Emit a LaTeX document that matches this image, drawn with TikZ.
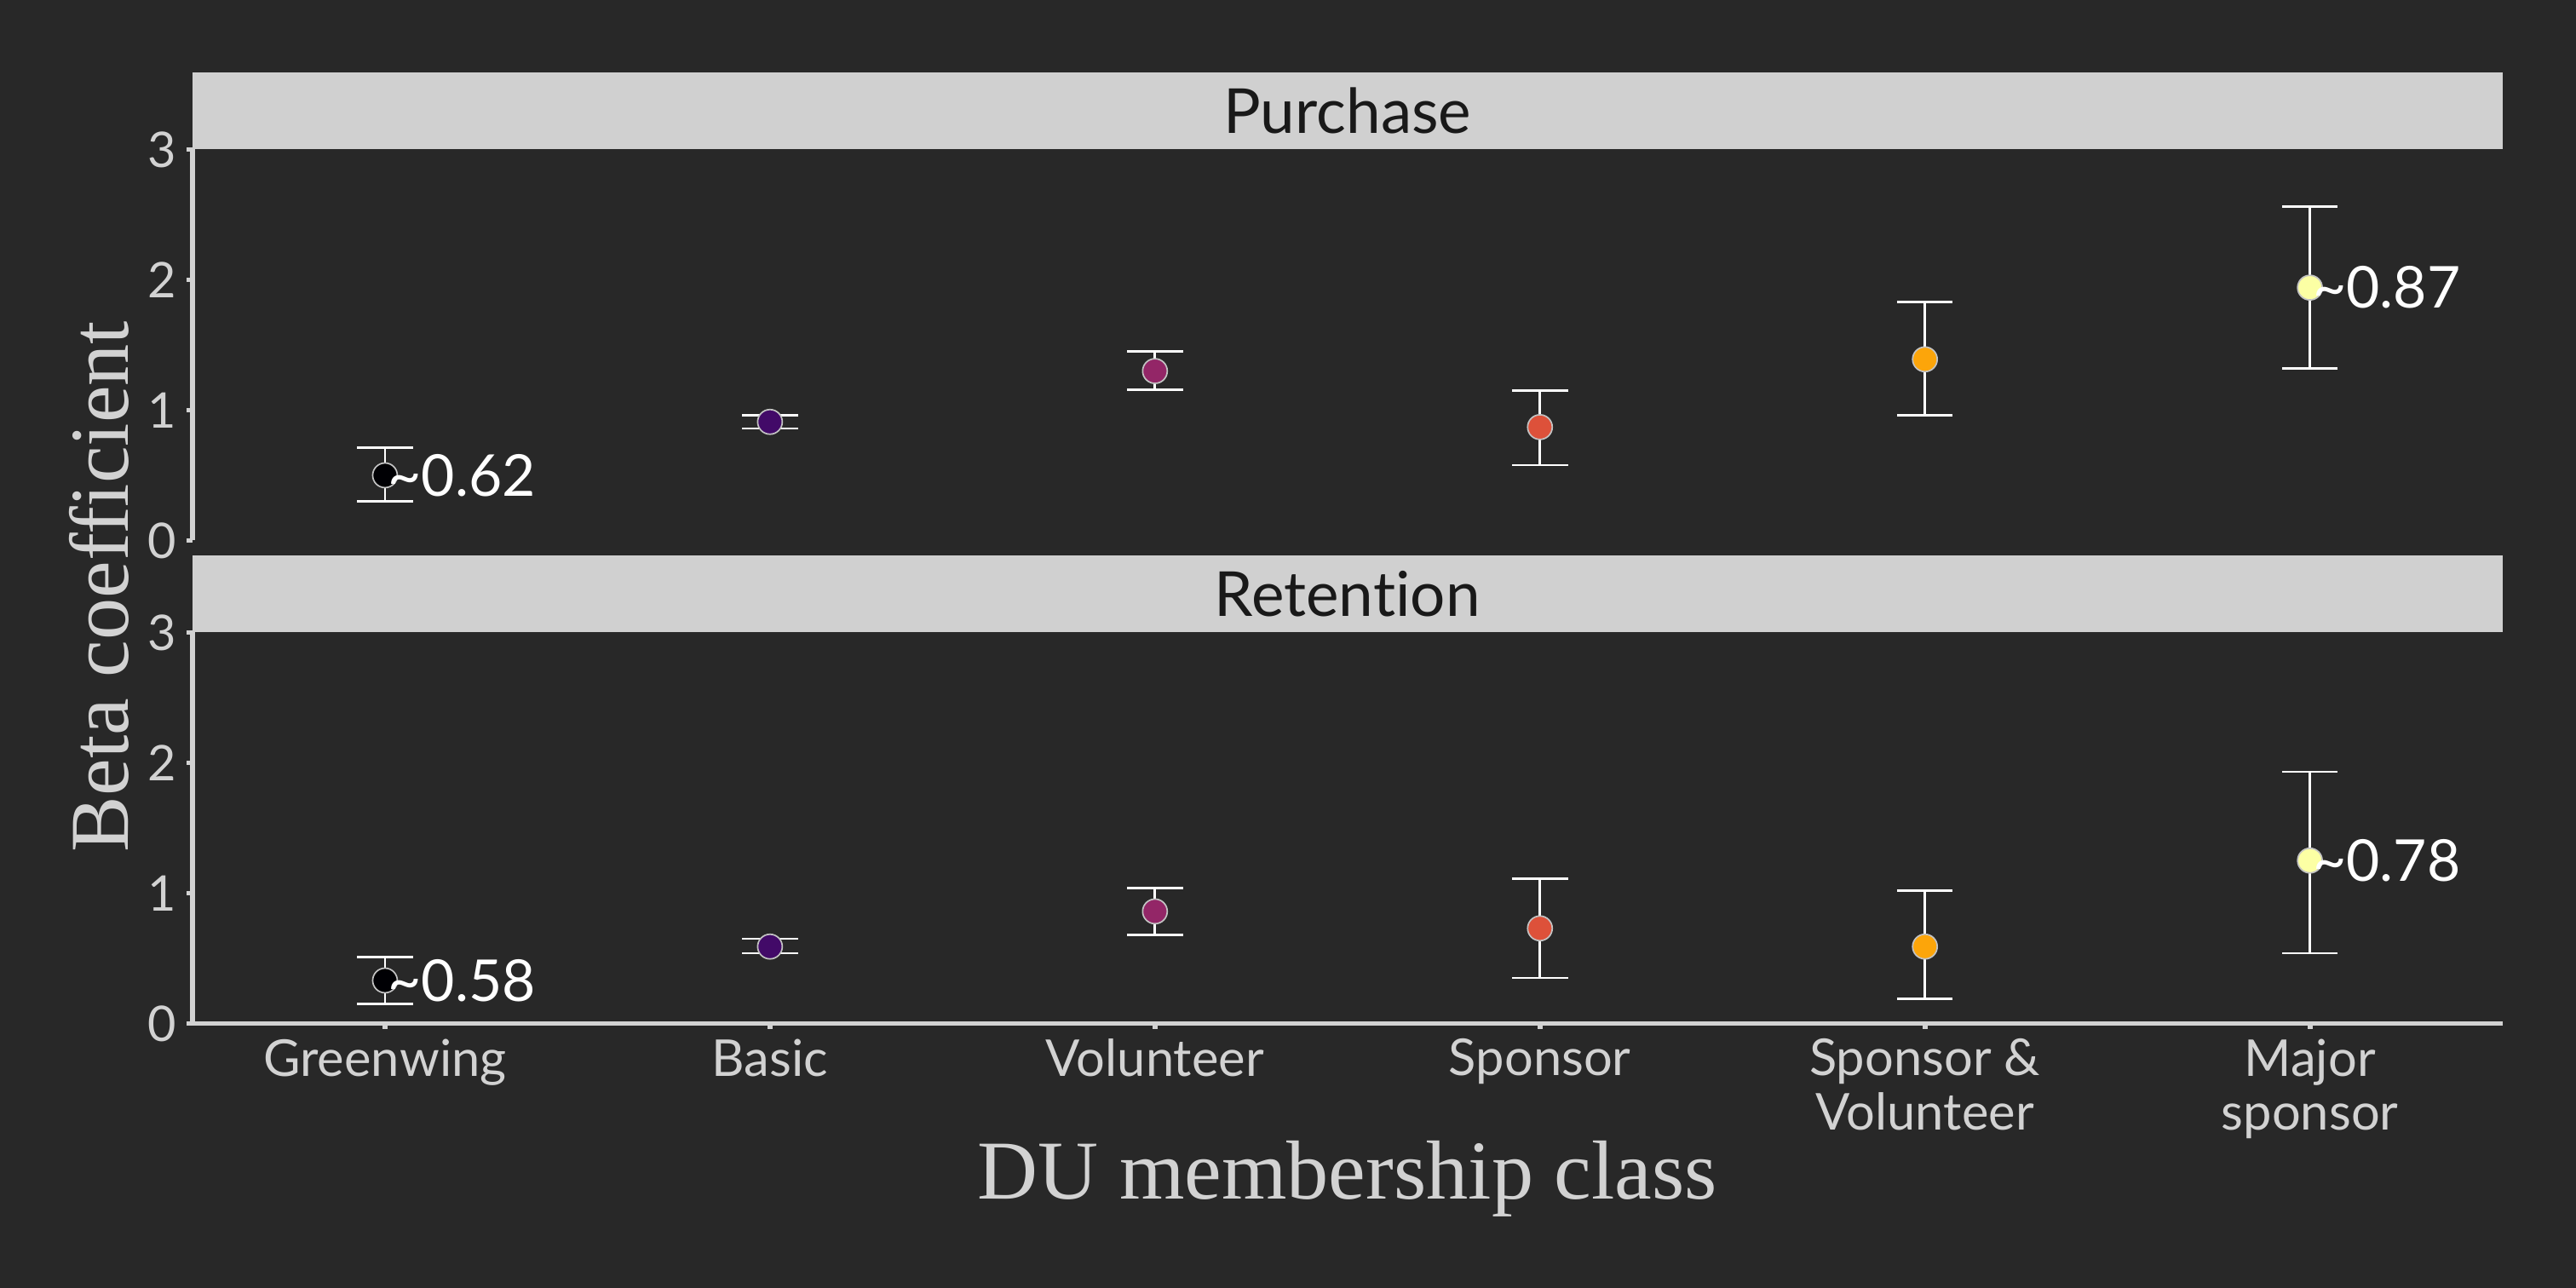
\documentclass[tikz,border=0pt]{standalone}
\usepackage{fontspec}
\setmainfont{Lato}[Ligatures=NoCommon]
\newfontfamily\serifttl{Liberation Serif}
\usetikzlibrary{positioning,arrows.meta}
\definecolor{bgdark}{RGB}{40,40,40}
\definecolor{stripgray}{RGB}{208,208,208}
\definecolor{axisgray}{RGB}{210,210,210}
\definecolor{dotedge}{RGB}{195,195,195}
\definecolor{infA}{HTML}{000004}
\definecolor{infB}{HTML}{420A68}
\definecolor{infC}{HTML}{932667}
\definecolor{infD}{HTML}{DD513A}
\definecolor{infE}{HTML}{FCA50A}
\definecolor{infF}{HTML}{FCFFA4}
\begin{document}
\begin{tikzpicture}[x=4.6867cm,
    dot/.style={circle,draw=dotedge,line width=0.5pt,minimum size=0.3cm,inner sep=0pt},
    errbar/.style={white,line width=0.8pt,{Bar[width=0.68cm]}-{Bar[width=0.68cm]}},
    note/.style={inner sep=0pt,text=white,font=\fontsize{20}{24}\selectfont},
    strip/.style={fill=stripgray},
    striptext/.style={inner sep=0pt,text=black!90,font=\fontsize{21.5}{25}\selectfont},
    axisline/.style={draw=axisgray,line width=1.7pt},
    ytick/.style={inner sep=0pt,text=axisgray,font=\fontsize{17}{19}\selectfont},
    xtick/.style={inner sep=0pt,align=center,text=axisgray,font=\fontsize{17.6}{18.8}\selectfont},
    axistitle/.style={inner sep=0pt,text=axisgray,font=\serifttl\fontsize{29}{33}\selectfont}]
  \useasboundingbox (0,0) rectangle (31.36cm,15.68cm);
  \fill[bgdark] (0,0) rectangle (31.36cm,15.68cm);

  % Purchase
  \begin{scope}[yshift=9.1cm,y=1.5867cm]
    \fill[strip] (0.5,3) rectangle (6.5,3.5925);
    \node[striptext] (PUR) at (3.5,3.296) {Purchase};
    \draw[axisline] (0.5,0) -- (0.5,3);
    \draw[axisline] (0.5,0) -- ++(-0.07cm,0) (0.5,1) -- ++(-0.07cm,0)
      (0.5,2) -- ++(-0.07cm,0) (0.5,3) -- ++(-0.07cm,0);
    \node[ytick, left=0.19cm] (PY0) at (0.5,0) {0};
    \node[ytick, left=0.19cm] (PY1) at (0.5,1) {1};
    \node[ytick, left=0.19cm] (PY2) at (0.5,2) {2};
    \node[ytick, left=0.19cm] (PY3) at (0.5,3) {3};

    \draw[errbar] (1,0.29) -- (1,0.72);
    \draw[errbar] (2,0.85) -- (2,0.97);
    \draw[errbar] (3,1.15) -- (3,1.46);
    \draw[errbar] (4,0.57) -- (4,1.16);
    \draw[errbar] (5,0.95) -- (5,1.84);
    \draw[errbar] (6,1.31) -- (6,2.57);
    \node[dot, fill=infA] (P1) at (1,0.50) {};
    \node[dot, fill=infB] (P2) at (2,0.91) {};
    \node[dot, fill=infC] (P3) at (3,1.30) {};
    \node[dot, fill=infD] (P4) at (4,0.87) {};
    \node[dot, fill=infE] (P5) at (5,1.39) {};
    \node[dot, fill=infF] (P6) at (6,1.94) {};
    \node[note, right=0.03cm of P1.center] (PL1) {\textasciitilde0.62};
    \node[note, right=0.03cm of P6.center] (PL6) {\textasciitilde0.87};
  \end{scope}

  % Retention
  \begin{scope}[yshift=3.22cm,y=1.5867cm]
    \fill[strip] (0.5,3) rectangle (6.5,3.5925);
    \node[striptext] (RET) at (3.5,3.296) {Retention};
    \draw[axisline] (0.5,3) -- (0.5,0) -- (6.5,0);
    \draw[axisline] (0.5,0) -- ++(-0.07cm,0) (0.5,1) -- ++(-0.07cm,0)
      (0.5,2) -- ++(-0.07cm,0) (0.5,3) -- ++(-0.07cm,0);
    \draw[axisline] (1,0) -- ++(0,-0.07cm) (2,0) -- ++(0,-0.07cm) (3,0) -- ++(0,-0.07cm)
      (4,0) -- ++(0,-0.07cm) (5,0) -- ++(0,-0.07cm) (6,0) -- ++(0,-0.07cm);
    \node[ytick, left=0.19cm] (RY0) at (0.5,0) {0};
    \node[ytick, left=0.19cm] (RY1) at (0.5,1) {1};
    \node[ytick, left=0.19cm] (RY2) at (0.5,2) {2};
    \node[ytick, left=0.19cm] (RY3) at (0.5,3) {3};
    \node[xtick, below=0.18cm] (X1) at (1,0) {Greenwing};
    \node[xtick, below=0.18cm] (X2) at (2,0) {Basic};
    \node[xtick, below=0.18cm] (X3) at (3,0) {Volunteer};
    \node[xtick, below=0.18cm] (X4) at (4,0) {Sponsor};
    \node[xtick, below=0.18cm] (X5) at (5,0) {Sponsor \&\\Volunteer};
    \node[xtick, below=0.18cm] (X6) at (6,0) {Major\\sponsor};

    \draw[errbar] (1,0.14) -- (1,0.52);
    \draw[errbar] (2,0.53) -- (2,0.66);
    \draw[errbar] (3,0.67) -- (3,1.05);
    \draw[errbar] (4,0.34) -- (4,1.12);
    \draw[errbar] (5,0.18) -- (5,1.03);
    \draw[errbar] (6,0.53) -- (6,1.94);
    \node[dot, fill=infA] (R1) at (1,0.33) {};
    \node[dot, fill=infB] (R2) at (2,0.59) {};
    \node[dot, fill=infC] (R3) at (3,0.86) {};
    \node[dot, fill=infD] (R4) at (4,0.73) {};
    \node[dot, fill=infE] (R5) at (5,0.59) {};
    \node[dot, fill=infF] (R6) at (6,1.25) {};
    \node[note, right=0.03cm of R1.center] (RL1) {\textasciitilde0.58};
    \node[note, right=0.03cm of R6.center] (RL6) {\textasciitilde0.78};
  \end{scope}

  \node[axistitle, anchor=base] (XT) at (3.5,1.08) {DU membership class};
  \node[axistitle, rotate=90, anchor=base] (YT) at (0.333,8.54) {Beta coefficient};
\end{tikzpicture}
\end{document}
